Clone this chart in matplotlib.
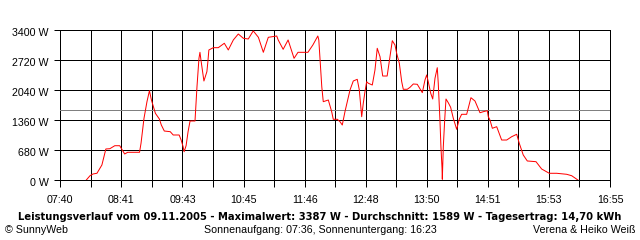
import matplotlib
matplotlib.use("Agg")
import matplotlib.pyplot as plt
import matplotlib.transforms as mtransforms
import numpy as np

# time in minutes after midnight, power in W
times = [486, 490, 493, 497, 500, 502, 506, 510, 515, 520, 522, 525, 528, 540, 541.5,
         544.5, 547.5, 550, 552, 554, 556, 560, 562, 565, 571, 574, 580, 582, 584, 585,
         587, 589, 591, 596, 598, 600, 601, 602, 605, 608, 609, 610, 614.5, 619.5, 625.6,
         629.6, 634.7, 639.7, 644.8, 649.8, 654.8, 660, 665, 670, 678.5, 680, 685, 690,
         696, 700, 710, 715, 720, 721, 724, 725.5, 730.6, 734, 735.6, 739.7, 742.4, 744.7,
         747.4, 752.5, 755.8, 759.8, 761.9, 764.3, 765.9, 767.6, 769.3, 771, 775, 777.7,
         780, 782.8, 785.5, 790, 792.9, 795.2, 797.9, 799.6, 802.3, 804.7, 806.3, 810.3,
         813.1, 816.4, 820.4, 824.2, 825.5, 828.2, 829.9, 831.5, 834, 836, 838.3, 840.6,
         841.6, 843.3, 844.3, 845.4, 845.7, 846.1, 846.7, 848.1, 849.4, 851.7, 854.1,
         856.8, 860.2, 862.8, 865.2, 870.3, 874.6, 878.7, 883.7, 887.1, 891.1, 892.1,
         893.8, 896.2, 900.6, 905.6, 910.7, 915.7, 920.8, 923.4, 927.4, 931.5, 940.3,
         946, 953.7, 961.2, 971.3, 976.3, 983]
power = [0, 104, 143, 159, 272, 347, 710, 716, 784, 784, 710, 596, 635, 635, 839,
         1405, 1782, 2031, 1820, 1668, 1519, 1390, 1253, 1117, 1102, 1027, 1027, 913, 762, 648,
         784, 1102, 1344, 1344, 2122, 2765, 2901, 2727, 2251, 2462, 2688, 2954, 3006, 3006, 3106,
         2954, 3181, 3316, 3219, 3203, 3387, 3241, 2901, 3241, 3271, 3181, 2969, 3181,
         2765, 2901, 2901, 3067, 3271, 3181, 2122, 1782, 1820, 1555, 1383, 1383, 1328, 1253,
         1555, 2047, 2251, 2289, 2047, 1442, 1745, 2008, 2235, 2199, 2160, 2500,
         2992, 2802, 2364, 2364, 2802, 3164, 3067, 2879, 2652, 2235, 2063, 2063,
         2108, 2183, 2176, 2031, 1986, 2274, 2387, 2235, 1972, 1843, 2312, 2552,
         2199, 1367, 762, 279, 23, 308, 762, 1367, 1843, 1759, 1655,
         1405, 1156, 1383, 1496, 1496, 1872, 1797, 1532, 1555, 1578, 1442,
         1367, 1179, 1215, 913, 913, 988, 1043, 839, 574, 438, 422,
         256, 159, 159, 136, 104, 0]

average = 1589
y_ticks = [0, 680, 1360, 2040, 2720, 3400]
x_start, x_end = 460, 1015
x_labels = ["07:40", "08:41", "09:43", "10:45", "11:46", "12:48", "13:50", "14:51", "15:53", "16:55"]

title = "Leistungsverlauf vom 09.11.2005 - Maximalwert: 3387 W - Durchschnitt: 1589 W - Tagesertrag: 14,70 kWh"
left_note = "\u00a9 SunnyWeb"
mid_note = "Sonnenaufgang: 07:36, Sonnenuntergang: 16:23"
right_note = "Verena & Heiko Wei\u00df"

plt.rcParams['font.family'] = ['Liberation Sans', 'DejaVu Sans']

W, H = 640, 240
fig = plt.figure(figsize=(6.4, 2.4), dpi=100)
fig.patch.set_facecolor('white')
ax = fig.add_axes([60.3 / W, 1 - 180.3 / H, (610 - 60.3) / W, 150 / H])

lw = 0.72
fs = 7.7
ax.set_xlim(x_start, x_end)
ax.set_ylim(0, 3400)
minor = np.linspace(x_start, x_end, 2 * (len(x_labels) - 1) + 1)
ax.set_xticks(minor)
ax.set_xticklabels([x_labels[i // 2] if i % 2 == 0 else "" for i in range(len(minor))])
ax.set_yticks(y_ticks)
ax.set_yticklabels([f"{v} W" for v in y_ticks])
ax.grid(True, color='black', linewidth=lw)
ax.tick_params(axis='x', length=5, width=lw, color='black', labelsize=fs, pad=5.5)
ax.tick_params(axis='y', length=4.3, width=lw, color='black', labelsize=fs, pad=4.0)
shift = mtransforms.ScaledTranslation(0, -2 / 100, fig.dpi_scale_trans)
for lab in ax.get_yticklabels():
    lab.set_transform(lab.get_transform() + shift)
for s in ax.spines.values():
    s.set_linewidth(lw)
    s.set_color('black')

ax.axhline(average, color='#808080', linewidth=lw, zorder=3)
ax.plot(times, power, color='#ff0000', linewidth=lw, zorder=4)

fig.text(319.5 / W, 1 - 219.5 / H, title, ha='center', va='baseline', fontsize=7.2,
         fontweight='bold', family=['DejaVu Sans'])
fig.text(5 / W, 1 - 233 / H, left_note, ha='left', va='baseline', fontsize=fs)
fig.text(320 / W, 1 - 233 / H, mid_note, ha='center', va='baseline', fontsize=fs)
fig.text(635 / W, 1 - 233 / H, right_note, ha='right', va='baseline', fontsize=fs)

fig.savefig("out.png", dpi=100, facecolor='white')
